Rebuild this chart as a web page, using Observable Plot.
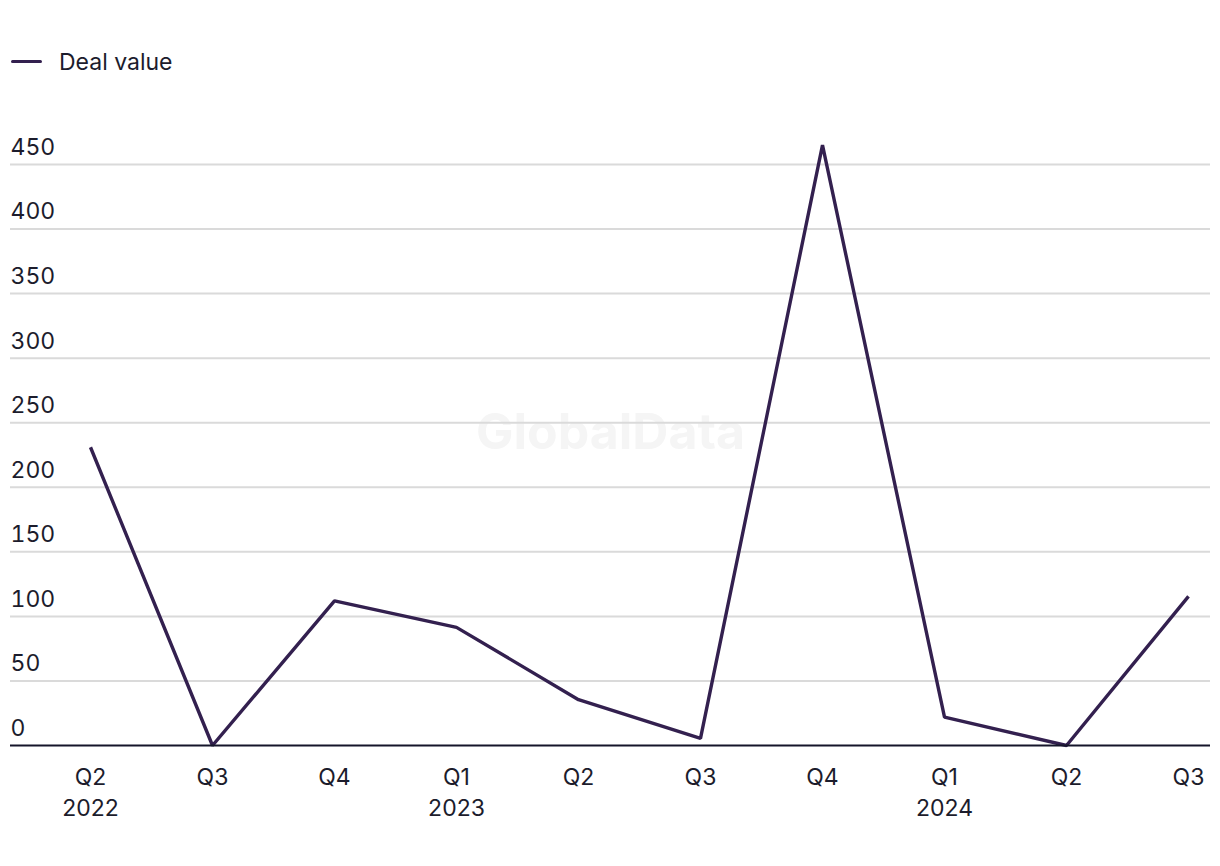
<!DOCTYPE html>
<html>
<head>
<meta charset="utf-8">
<script src="https://cdn.jsdelivr.net/npm/d3@7"></script>
<script src="https://cdn.jsdelivr.net/npm/@observablehq/plot@0.6"></script>
<style>
  html, body { margin: 0; padding: 0; background: #ffffff; }
  body { width: 1220px; height: 866px; overflow: hidden; font-family: Inter, "Liberation Sans", sans-serif; color: #1c1c2c; }
  #legend { height: 100px; position: relative; }
  #legend .swatch { position: absolute; left: 11px; top: 60px; width: 31px; height: 3px; border-radius: 2px; background: #33204f; }
  #legend .label { position: absolute; left: 59px; top: 47px; font-size: 23px; line-height: 30px; color: #1c1c2c; }
  #chart svg { display: block; }
</style>
</head>
<body>
<div id="legend"><div class="swatch"></div><div class="label">Deal value</div></div>
<div id="chart"></div>
<script>
const quarters = ["Q2", "Q3", "Q4", "Q1", "Q2", "Q3", "Q4", "Q1", "Q2", "Q3"];
const years    = ["2022", "", "", "2023", "", "", "", "2024", "", ""];
const dealValue = [231, 0, 112, 91.5, 35.5, 5.5, 465, 22, 0, 115.5];
const yTicks = [0, 50, 100, 150, 200, 250, 300, 350, 400, 450];

const labels = quarters.map((q, i) => years[i] ? q + "\n" + years[i] : q);
const data = dealValue.map((v, i) => ({idx: i, value: v}));

const W = 1220, H = 766;
const chart = Plot.plot({
  width: W,
  height: H,
  marginLeft: 10,
  marginRight: 10,
  marginTop: 0,
  marginBottom: 121,
  style: {fontFamily: "Inter, 'Liberation Sans', sans-serif", fontSize: "23px", color: "#1c1c2c", background: "#ffffff"},
  x: {type: "point", domain: d3.range(labels.length), range: [87, 1191], padding: 0, label: null},
  y: {domain: [0, 450], range: [645, 64], label: null},
  marks: [
    Plot.text(["GlobalData"], {frameAnchor: "middle", dy: 10, fontSize: 50, fontWeight: 700, fill: "#f5f5f5"}),
    Plot.ruleY(yTicks.filter(d => d > 0), {stroke: "#dadada", strokeWidth: 2}),
    Plot.axisY({ticks: yTicks, anchor: "left", tickSize: 0, tickPadding: 0, textAnchor: "start", dy: -17, fontSize: 23, fill: "#1c1c2c", label: null}),
    Plot.axisX({tickSize: 0, tickPadding: 17, fontSize: 23, lineHeight: 1.35, fill: "#1c1c2c", label: null, tickFormat: i => labels[i]}),
    Plot.line(data, {x: "idx", y: "value", stroke: "#33204f", strokeWidth: 3.4, strokeLinejoin: "miter", strokeLinecap: "butt"}),
    Plot.ruleY([0], {stroke: "#15152a", strokeWidth: 2})
  ]
});
document.getElementById("chart").appendChild(chart);
</script>
</body>
</html>
